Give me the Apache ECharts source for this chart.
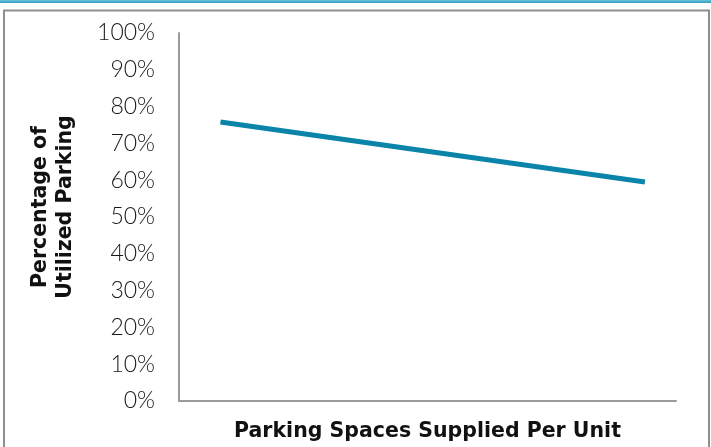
<!DOCTYPE html>
<html>
<head>
<meta charset="utf-8">
<script src="https://cdn.jsdelivr.net/npm/echarts@6/dist/echarts.min.js"></script>
<style>
html,body{margin:0;padding:0;background:#fff;}
#c{width:711px;height:447px;}
</style>
</head>
<body>
<div id="c"></div>
<script>
// Data
var xValues = [1, 11.25];
var utilization = [75.8, 59.5];
var yTicks = [0, 10, 20, 30, 40, 50, 60, 70, 80, 90, 100];
var xTitle = 'Parking Spaces Supplied Per Unit';
var yTitle = 'Percentage of\nUtilized Parking';

var seriesData = xValues.map(function (x, i) { return [x, utilization[i]]; });

var chart = echarts.init(document.getElementById('c'), null, {renderer: 'canvas'});
chart.setOption({
  animation: false,
  backgroundColor: '#ffffff',
  grid: {left: 179, right: 35, top: 33, bottom: 46, containLabel: false},
  xAxis: {
    type: 'value', min: 0, max: 12,
    axisLine: {show: true, lineStyle: {color: '#9a9a9a', width: 2}},
    axisTick: {show: false},
    axisLabel: {show: false},
    splitLine: {show: false}
  },
  yAxis: {
    type: 'value', min: yTicks[0], max: yTicks[yTicks.length - 1], interval: 10,
    axisLine: {show: true, lineStyle: {color: '#9a9a9a', width: 2}},
    axisTick: {show: false},
    splitLine: {show: false},
    axisLabel: {
      margin: 24,
      color: '#1a1a1a',
      fontFamily: 'Lato',
      fontWeight: 300,
      fontSize: 23,
      formatter: function (v) { return v + '%'; }
    }
  },
  series: [{
    type: 'line',
    data: seriesData,
    symbol: 'none',
    lineStyle: {color: '#0a85a9', width: 5, cap: 'butt'}
  }],
  graphic: [
    {type: 'rect', shape: {x: 0, y: 0, width: 711, height: 3},
     style: {fill: new echarts.graphic.LinearGradient(0, 0, 0, 1, [{offset: 0, color: '#6cc3dc'}, {offset: 1, color: '#2f9dc0'}])}, silent: true},
    {type: 'rect', shape: {x: 4, y: 10.5, width: 705, height: 460},
     style: {fill: 'none', stroke: '#8e8e8e', lineWidth: 2}, silent: true},
    {type: 'text', x: 427.5, y: 432,
     style: {text: xTitle, fontFamily: 'DejaVu Sans', fontWeight: 'bold', fontSize: 20.5, fill: '#111', align: 'center', verticalAlign: 'middle'}},
    {type: 'text', x: 53, y: 207, rotation: Math.PI / 2,
     style: {text: yTitle, fontFamily: 'DejaVu Sans', fontWeight: 'bold', fontSize: 20.5, lineHeight: 25, fill: '#111', align: 'center', verticalAlign: 'middle'}}
  ]
});
</script>
</body>
</html>
